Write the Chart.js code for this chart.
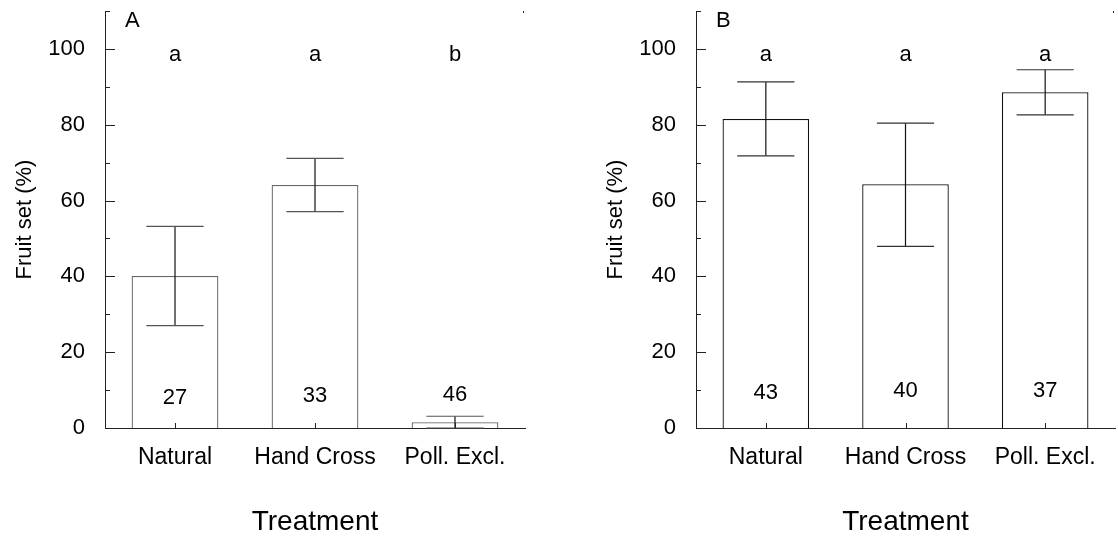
<!DOCTYPE html>
<html>
<head>
<meta charset="utf-8">
<script src="https://cdn.jsdelivr.net/npm/chart.js"></script>
<style>
  html, body { margin: 0; padding: 0; background: #fff; }
  #wrap { position: relative; width: 1118px; height: 539px; }
  .panel { position: absolute; top: 0; height: 539px; }
  #panelA { left: 0; width: 591px; }
  #panelB { left: 591px; width: 527px; }
</style>
</head>
<body>
<div id="wrap">
  <div class="panel" id="panelA"><canvas id="graficoA"></canvas></div>
  <div class="panel" id="panelB"><canvas id="graficoB"></canvas></div>
</div>
<script>
// categorias y valores
const categories = ['Natural', 'Hand Cross', 'Poll. Excl.'];
const yTickValues = [0, 20, 40, 60, 80, 100];

// panel A
const fruitSetA = [40.1, 64.1, 1.5];
const errLowA = [27.0, 57.1, 0];
const errHighA = [53.2, 71.1, 3.1];
const lettersA = ['a', 'a', 'b'];
const countsA = ['27', '33', '46'];
const countPosA = [7.9, 8.4, 8.8];

// panel B
const fruitSetB = [81.5, 64.3, 88.6];
const errLowB = [71.8, 47.9, 82.6];
const errHighB = [91.3, 80.4, 94.5];
const lettersB = ['a', 'a', 'a'];
const countsB = ['43', '40', '37'];
const countPosB = [9.3, 9.8, 9.8];

const letterPos = 98.5;
const panelLabelPos = 107.4;
const fontFamily = '"Liberation Sans", Arial, Helvetica, sans-serif';

function crearGrafico(canvasId, cfg) {
    // dibuja barras de error, letras, n y marcas hacia adentro
    const marcas = {
        id: 'marcas',
        afterDatasetsDraw(chart) {
            const ctx = chart.ctx;
            const x = chart.scales.x;
            const y = chart.scales.y;
            const meta = chart.getDatasetMeta(0);
            ctx.save();
            ctx.lineWidth = 1.2;
            meta.data.forEach((bar, i) => {
                const cx = bar.x;
                const yHi = y.getPixelForValue(cfg.errHigh[i]);
                const yLo = y.getPixelForValue(cfg.errLow[i]);
                const half = bar.width * 0.33;
                ctx.strokeStyle = '#111';
                ctx.beginPath();
                ctx.moveTo(cx, yLo);
                ctx.lineTo(cx, yHi);
                ctx.stroke();
                ctx.strokeStyle = cfg.capColor;
                ctx.beginPath();
                ctx.moveTo(cx - half, yHi);
                ctx.lineTo(cx + half, yHi);
                ctx.moveTo(cx - half, yLo);
                ctx.lineTo(cx + half, yLo);
                ctx.stroke();
            });

            ctx.fillStyle = '#000';
            ctx.font = '22px ' + fontFamily;
            ctx.textAlign = 'center';
            ctx.textBaseline = 'middle';
            meta.data.forEach((bar, i) => {
                ctx.fillText(cfg.letters[i], bar.x, y.getPixelForValue(letterPos));
                ctx.fillText(cfg.counts[i], bar.x, y.getPixelForValue(cfg.countPos[i]));
            });
            ctx.textAlign = 'left';
            ctx.fillText(cfg.panel, chart.chartArea.left + 20, y.getPixelForValue(panelLabelPos));

            // marcas del eje y hacia adentro
            ctx.strokeStyle = '#222';
            ctx.lineWidth = 1;
            const left = chart.chartArea.left;
            for (let v = 0; v <= 110; v += 10) {
                const py = Math.round(y.getPixelForValue(v)) + 0.5;
                const len = (v % 20 === 0 && v <= 100) ? 10 : 5;
                ctx.beginPath();
                ctx.moveTo(left, py);
                ctx.lineTo(left + len, py);
                ctx.stroke();
            }
            // marcas del eje x
            const bottom = chart.chartArea.bottom;
            categories.forEach((c, i) => {
                const px = Math.round(x.getPixelForValue(i)) + 0.5;
                ctx.beginPath();
                ctx.moveTo(px, bottom);
                ctx.lineTo(px, bottom - 5);
                ctx.stroke();
            });
            // pequeña marca arriba a la derecha
            const right = Math.round(chart.chartArea.right) - 1.5;
            const top = Math.round(chart.chartArea.top);
            ctx.beginPath();
            ctx.moveTo(right, top);
            ctx.lineTo(right, top + 2);
            ctx.stroke();
            ctx.restore();
        }
    };

    const ctx = document.getElementById(canvasId).getContext('2d');
    return new Chart(ctx, {
        type: 'bar',
        data: {
            labels: categories,
            datasets: [{
                data: cfg.values,
                backgroundColor: '#fff',
                borderColor: cfg.barColor,
                borderWidth: 1.3,
                categoryPercentage: 1,
                barPercentage: 0.62
            }]
        },
        options: {
            responsive: true,
            maintainAspectRatio: false,
            animation: false,
            layout: { padding: { top: 11, bottom: 0, left: 0, right: cfg.rightPad } },
            plugins: { legend: { display: false }, tooltip: { enabled: false } },
            scales: {
                x: {
                    afterFit: s => { s.height = 111; s.paddingLeft = 0; s.paddingRight = 0; },
                    grid: { display: false, drawTicks: false },
                    border: { display: true, color: '#222', width: 1 },
                    ticks: { color: '#000', padding: 16, maxRotation: 0, font: { family: fontFamily, size: 23 } },
                    title: {
                        display: true,
                        text: 'Treatment',
                        color: '#000',
                        padding: { top: 0, bottom: 0 },
                        font: { family: fontFamily, size: 28 }
                    }
                },
                y: {
                    min: 0,
                    max: 110,
                    afterFit: s => { s.width = 105; s.paddingTop = 0; s.paddingBottom = 0; },
                    afterBuildTicks: s => { s.ticks = yTickValues.map(v => ({ value: v })); },
                    grid: { display: false, drawTicks: false },
                    border: { display: true, color: '#222', width: 1 },
                    ticks: { color: '#000', padding: 20, font: { family: fontFamily, size: 22 } },
                    title: {
                        display: true,
                        text: 'Fruit set (%)',
                        color: '#000',
                        padding: { top: 12, bottom: 0 },
                        font: { family: fontFamily, size: 22 }
                    }
                }
            }
        },
        plugins: [marcas]
    });
}

document.addEventListener('DOMContentLoaded', function() {
    crearGrafico('graficoA', {
        values: fruitSetA, errLow: errLowA, errHigh: errHighA,
        letters: lettersA, counts: countsA, countPos: countPosA,
        panel: 'A', rightPad: 66, barColor: '#666', capColor: '#555'
    });
    crearGrafico('graficoB', {
        values: fruitSetB, errLow: errLowB, errHigh: errHighB,
        letters: lettersB, counts: countsB, countPos: countPosB,
        panel: 'B', rightPad: 3, barColor: '#111', capColor: '#333'
    });
});
</script>
</body>
</html>
